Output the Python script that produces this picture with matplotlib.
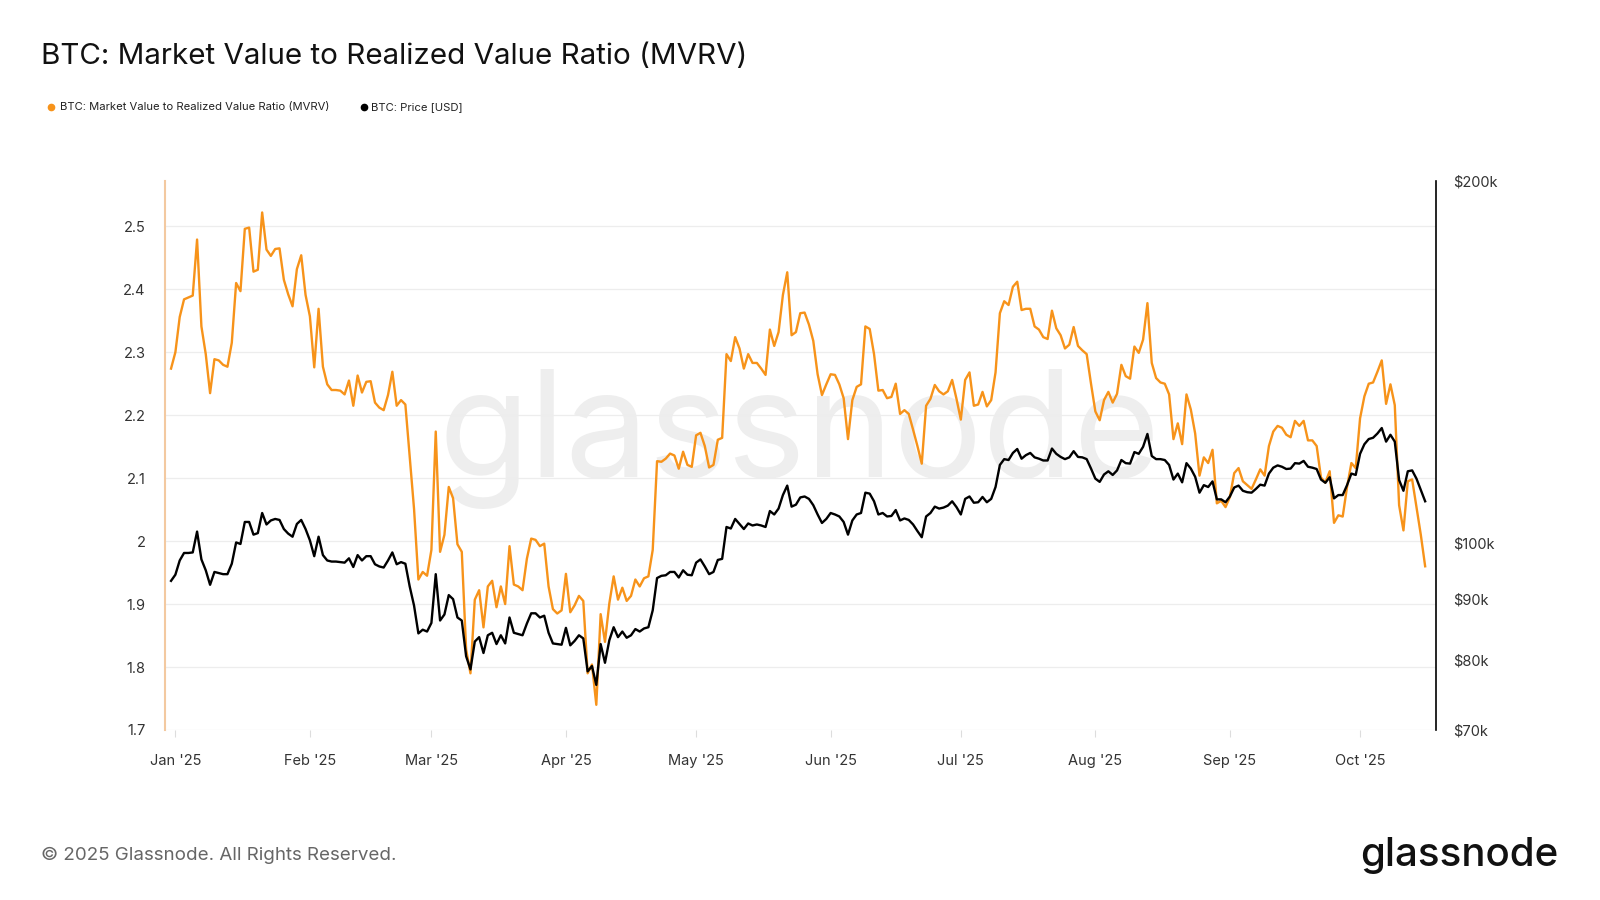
# BTC MVRV vs price, glassnode style
import numpy as np
import pandas as pd
import matplotlib
matplotlib.use('Agg')
import matplotlib.pyplot as plt
import matplotlib.dates as mdates
from matplotlib.lines import Line2D

plt.rcParams['font.family'] = ['Inter', 'DejaVu Sans']

# daily values, starting 2024-12-31
start_date = '2024-12-31'
mvrv = [
    2.274, 2.300, 2.356, 2.384, 2.387, 2.390, 2.479, 2.341, 2.297, 2.235,
    2.289, 2.287, 2.280, 2.277, 2.315, 2.410, 2.397, 2.496, 2.498, 2.428,
    2.431, 2.522, 2.463, 2.453, 2.464, 2.465, 2.415, 2.392, 2.373, 2.432,
    2.454, 2.391, 2.357, 2.276, 2.369, 2.277, 2.249, 2.240, 2.240, 2.239,
    2.233, 2.255, 2.215, 2.263, 2.236, 2.253, 2.254, 2.220, 2.212, 2.208,
    2.232, 2.269, 2.215, 2.224, 2.217, 2.133, 2.051, 1.939, 1.951, 1.945,
    1.986, 2.174, 1.983, 2.010, 2.086, 2.068, 1.995, 1.983, 1.828, 1.790,
    1.907, 1.922, 1.863, 1.928, 1.937, 1.895, 1.928, 1.900, 1.992, 1.931,
    1.928, 1.922, 1.972, 2.004, 2.002, 1.992, 1.996, 1.928, 1.892, 1.885,
    1.890, 1.948, 1.887, 1.898, 1.913, 1.905, 1.790, 1.804, 1.740, 1.884,
    1.840, 1.901, 1.944, 1.907, 1.926, 1.905, 1.913, 1.939, 1.928, 1.941,
    1.944, 1.986, 2.127, 2.126, 2.131, 2.139, 2.136, 2.115, 2.142, 2.121,
    2.118, 2.168, 2.172, 2.151, 2.117, 2.121, 2.161, 2.164, 2.297, 2.286,
    2.324, 2.306, 2.274, 2.297, 2.283, 2.283, 2.274, 2.264, 2.336, 2.310,
    2.332, 2.391, 2.427, 2.327, 2.332, 2.362, 2.363, 2.344, 2.318, 2.265,
    2.232, 2.249, 2.265, 2.264, 2.249, 2.227, 2.162, 2.224, 2.245, 2.249,
    2.341, 2.337, 2.297, 2.239, 2.240, 2.227, 2.229, 2.250, 2.202, 2.208,
    2.202, 2.177, 2.151, 2.123, 2.215, 2.226, 2.248, 2.238, 2.233, 2.238,
    2.256, 2.226, 2.193, 2.256, 2.268, 2.215, 2.217, 2.237, 2.214, 2.224,
    2.268, 2.362, 2.381, 2.375, 2.404, 2.412, 2.367, 2.369, 2.369, 2.341,
    2.336, 2.324, 2.321, 2.366, 2.338, 2.327, 2.306, 2.312, 2.340, 2.310,
    2.303, 2.297, 2.250, 2.206, 2.192, 2.224, 2.237, 2.220, 2.234, 2.280,
    2.262, 2.258, 2.309, 2.299, 2.320, 2.378, 2.283, 2.259, 2.252, 2.250,
    2.233, 2.162, 2.187, 2.154, 2.233, 2.209, 2.171, 2.104, 2.133, 2.124,
    2.145, 2.060, 2.064, 2.054, 2.070, 2.108, 2.116, 2.095, 2.089, 2.083,
    2.098, 2.114, 2.104, 2.151, 2.174, 2.183, 2.180, 2.169, 2.165, 2.191,
    2.183, 2.191, 2.160, 2.160, 2.151, 2.101, 2.093, 2.111, 2.029, 2.041,
    2.039, 2.086, 2.124, 2.116, 2.195, 2.230, 2.250, 2.252, 2.269, 2.287,
    2.218, 2.249, 2.216, 2.057, 2.017, 2.095, 2.098, 2.054, 2.010, 1.960,
]
# BTC price in thousands of USD
price_k = [
    93.1, 94.2, 96.8, 98.2, 98.2, 98.3, 102.3, 97.0, 95.0, 92.4,
    94.7, 94.5, 94.3, 94.3, 96.2, 100.2, 99.9, 104.2, 104.2, 101.7,
    102.0, 106.0, 103.7, 104.5, 104.8, 104.6, 102.8, 101.9, 101.3, 103.8,
    104.6, 102.8, 100.6, 97.6, 101.3, 97.8, 96.8, 96.6, 96.6, 96.5,
    96.4, 97.2, 95.6, 97.8, 96.8, 97.6, 97.6, 96.1, 95.7, 95.5,
    96.8, 98.3, 96.1, 96.5, 96.2, 92.1, 88.8, 84.2, 84.8, 84.5,
    85.9, 94.3, 86.3, 87.3, 90.6, 89.9, 86.8, 86.3, 80.6, 78.6,
    82.9, 83.6, 81.1, 83.9, 84.3, 82.5, 83.9, 82.6, 86.8, 84.3,
    84.1, 83.9, 85.8, 87.5, 87.5, 86.8, 87.1, 84.3, 82.6, 82.5,
    82.4, 85.1, 82.3, 83.0, 83.9, 83.4, 78.3, 79.1, 76.3, 82.5,
    79.6, 83.1, 85.2, 83.6, 84.5, 83.5, 83.9, 84.9, 84.5, 85.0,
    85.2, 88.0, 93.6, 94.0, 94.1, 94.7, 94.7, 93.7, 95.0, 94.2,
    94.1, 96.4, 97.0, 95.7, 94.3, 94.7, 96.9, 97.1, 103.2, 102.9,
    104.8, 103.8, 102.8, 103.9, 103.5, 103.7, 103.5, 103.2, 106.4, 105.7,
    106.9, 109.7, 111.7, 107.3, 107.7, 109.2, 109.4, 108.9, 107.6, 105.7,
    104.0, 104.8, 106.0, 105.7, 105.3, 104.2, 101.7, 104.5, 105.7, 106.0,
    110.2, 110.0, 108.4, 105.7, 106.0, 105.3, 105.4, 106.6, 104.5, 104.9,
    104.6, 103.7, 102.4, 101.2, 105.3, 106.0, 107.3, 106.9, 107.1, 107.5,
    108.4, 107.2, 105.7, 108.9, 109.4, 108.1, 108.2, 109.3, 108.2, 108.9,
    111.4, 116.2, 117.5, 117.3, 118.9, 119.8, 117.6, 118.4, 118.9, 117.9,
    117.6, 117.2, 117.2, 119.9, 118.7, 118.0, 117.5, 117.9, 119.3, 118.0,
    117.9, 117.5, 115.4, 113.2, 112.5, 114.1, 114.8, 114.0, 115.0, 117.3,
    116.6, 116.5, 119.1, 118.7, 120.3, 123.3, 118.2, 117.5, 117.5, 117.3,
    116.2, 113.0, 114.3, 112.4, 116.6, 115.4, 113.6, 110.2, 111.8, 111.4,
    112.6, 108.8, 108.8, 108.2, 109.4, 111.3, 111.7, 110.6, 110.3, 110.2,
    111.0, 111.9, 111.7, 114.3, 115.6, 116.1, 115.8, 115.3, 115.4, 116.6,
    116.5, 117.1, 115.8, 115.6, 115.3, 113.0, 112.3, 113.5, 109.0, 109.7,
    109.7, 111.8, 114.3, 114.0, 118.7, 120.9, 122.1, 122.4, 123.4, 124.7,
    121.5, 123.1, 121.5, 112.9, 110.6, 114.8, 115.0, 113.2, 110.8, 108.4,
]
mvrv_ticks = [1.7, 1.8, 1.9, 2.0, 2.1, 2.2, 2.3, 2.4, 2.5]
price_ticks = [70, 80, 90, 100, 200]

dates = pd.date_range(start_date, periods=len(mvrv), freq='D')

ORANGE = '#f7931a'
TICK_COLOR = '#333333'

fig = plt.figure(figsize=(16, 9), dpi=100)
ax = fig.add_axes([0.1031, 0.1889, 0.7944, 0.61])
ax2 = ax.twinx()

ax.plot(dates, mvrv, color=ORANGE, lw=1.7, zorder=3)
ax2.plot(dates, price_k, color='black', lw=1.7, zorder=3)

# left axis (MVRV)
ax.set_ylim(1.7, 2.572)
ax.set_yticks(mvrv_ticks)
ax.set_yticklabels([f'{t:g}' for t in mvrv_ticks])
ax.yaxis.grid(True, color='#ededed', lw=0.9)
ax.set_axisbelow(True)
ax.tick_params(axis='y', length=0, pad=14, labelsize=10.5, labelcolor=TICK_COLOR)

# right axis (price, log)
ax2.set_yscale('log')
ax2.set_ylim(70, 200)
ax2.set_yticks(price_ticks)
ax2.set_yticklabels([f'${t}k' for t in price_ticks])
ax2.yaxis.set_minor_locator(matplotlib.ticker.NullLocator())
ax2.tick_params(axis='y', length=0, pad=12, labelsize=10.5, labelcolor=TICK_COLOR)

# x axis
x0 = pd.Timestamp('2025-01-01')
ax.set_xlim(x0 - pd.Timedelta(days=2.4), x0 + pd.Timedelta(days=290.5))
ax.xaxis.set_major_locator(mdates.MonthLocator())
ax.xaxis.set_major_formatter(mdates.DateFormatter("%b '%y"))
ax.tick_params(axis='x', length=5, color='#dddddd', pad=12, labelsize=10.5, labelcolor=TICK_COLOR)

for s in ['top', 'right', 'bottom']:
    ax.spines[s].set_visible(False)
ax.spines['left'].set_color('#f3c9a0')
ax.spines['left'].set_linewidth(1.5)
for s in ['top', 'left', 'bottom']:
    ax2.spines[s].set_visible(False)
ax2.spines['right'].set_color('black')
ax2.spines['right'].set_linewidth(1.2)

# watermark
ax.text(0.499, 0.53, 'glassnode', transform=ax.transAxes, ha='center', va='center',
        fontsize=107, color='#eeeeee', zorder=0)

# title and legend
fig.text(0.0256, 0.937, 'BTC: Market Value to Realized Value Ratio (MVRV)',
         fontsize=21.3, color='#111111', va='center', ha='left')
fig.add_artist(Line2D([0.0319], [0.8811], marker='o', color=ORANGE, markersize=4.5,
                      lw=0, transform=fig.transFigure))
fig.text(0.0375, 0.8811, 'BTC: Market Value to Realized Value Ratio (MVRV)',
         fontsize=8.1, color='#222222', va='center', ha='left')
fig.add_artist(Line2D([0.2275], [0.8811], marker='o', color='black', markersize=4.5,
                      lw=0, transform=fig.transFigure))
fig.text(0.2319, 0.8811, 'BTC: Price [USD]',
         fontsize=8.1, color='#222222', va='center', ha='left')

# footer
fig.text(0.0256, 0.05, '\u00a9 2025 Glassnode. All Rights Reserved.',
         fontsize=13.5, color='#666666', va='center', ha='left')
fig.text(0.9738, 0.05, 'glassnode', fontsize=29, color='#111111',
         va='center', ha='right', fontweight='medium')

fig.savefig('out.png', dpi=100)
